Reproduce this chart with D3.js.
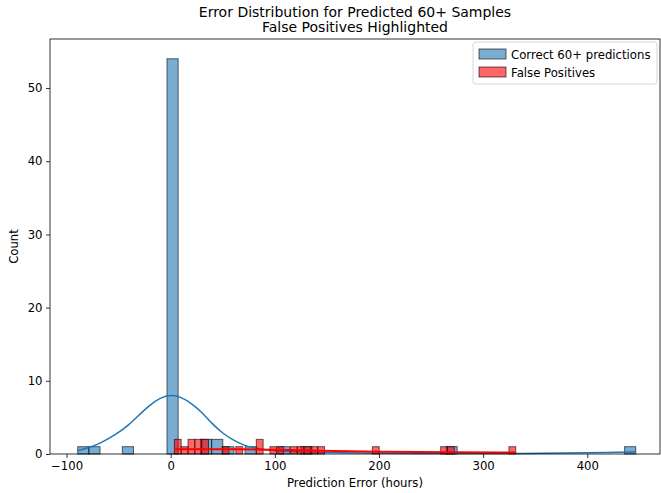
<!DOCTYPE html>
<html lang="en">
<head>
    <meta charset="UTF-8">
    <title>Error Distribution for Predicted 60+ Samples</title>
    <script src="https://d3js.org/d3.v7.min.js"></script>
    <style>
        body { margin: 0; background: #fff; }
        svg { font-family: "DejaVu Sans", sans-serif; }
    </style>
</head>
<body>
    <div id="chart"></div>

    <script>
        // histogram counts, 50 equal bins each
        const blueRange = [-89.3, 446.5];
        const blueCounts = [
            1, 1, 0, 0, 1, 0, 0, 0, 54, 0,
            0, 2, 2, 1, 0, 1, 0, 0, 1, 0,
            1, 0, 0, 0, 0, 0, 0, 0, 0, 0,
            0, 0, 0, 1, 0, 0, 0, 0, 0, 0,
            0, 0, 0, 0, 0, 0, 0, 0, 0, 1
        ];
        const redRange = [3.5, 331.3];
        const redCounts = [
            2, 1, 2, 2, 2, 0, 0, 1, 0, 1,
            0, 0, 2, 0, 1, 1, 0, 1, 1, 1,
            1, 1, 0, 0, 0, 0, 0, 0, 0, 1,
            0, 0, 0, 0, 0, 0, 0, 0, 0, 1,
            1, 0, 0, 0, 0, 0, 0, 0, 0, 1
        ];

        // kde curves (count scale)
        const blueKdeX = [-89.3, -80, -68, -52, -40, -30, -20, -10, 0, 10, 20, 30, 40, 50, 60, 70, 80, 95, 110, 140, 200, 280, 340, 380, 420, 446.5];
        const blueKdeY = [0.45, 0.8, 1.4, 2.7, 4.0, 5.4, 6.7, 7.7, 8.1, 7.8, 6.9, 5.7, 4.1, 2.8, 1.9, 1.2, 0.8, 0.5, 0.35, 0.2, 0.1, 0.05, 0.07, 0.12, 0.22, 0.3];
        const redKdeX = [3.5, 50, 100, 140, 200, 270, 331.3];
        const redKdeY = [0.65, 0.65, 0.6, 0.45, 0.3, 0.23, 0.22];

        const xTicks = [-100, 0, 100, 200, 300, 400];
        const yTicks = [0, 10, 20, 30, 40, 50];

        const W = 661, H = 493;
        const margin = { top: 39, right: 1, bottom: 39, left: 50 };
        const width = W - margin.left - margin.right;
        const height = H - margin.top - margin.bottom;
        const fs = 11.7;

        const svg = d3.select("#chart").append("svg")
            .attr("width", W).attr("height", H);

        const g = svg.append("g").attr("transform", `translate(${margin.left},${margin.top})`);

        const x = d3.scaleLinear().domain([-115.9, 469.8]).range([0, width]);
        const y = d3.scaleLinear().domain([0, 56.7]).range([height, 0]);

        function bins(counts, range) {
            const e = d3.scaleLinear().domain([0, counts.length]).range(range);
            return counts.map((c, i) => ({ x0: e(i), x1: e(i + 1), n: c })).filter(d => d.n > 0);
        }

        function drawHist(data, color) {
            g.append("g").selectAll("rect")
                .data(data)
                .enter().append("rect")
                .attr("x", d => x(d.x0))
                .attr("y", d => y(d.n))
                .attr("width", d => x(d.x1) - x(d.x0))
                .attr("height", d => height - y(d.n))
                .attr("fill", color)
                .attr("fill-opacity", 0.6)
                .attr("stroke", "#000")
                .attr("stroke-opacity", 0.6)
                .attr("stroke-width", 1);
        }

        const line = d3.line()
            .x(d => x(d[0]))
            .y(d => y(d[1]))
            .curve(d3.curveBasis);

        drawHist(bins(blueCounts, blueRange), "#1f77b4");
        g.append("path")
            .datum(d3.zip(blueKdeX, blueKdeY))
            .attr("d", line)
            .attr("fill", "none")
            .attr("stroke", "#1f77b4")
            .attr("stroke-width", 1.5);

        drawHist(bins(redCounts, redRange), "#ff0000");
        g.append("path")
            .datum(d3.zip(redKdeX, redKdeY))
            .attr("d", line)
            .attr("fill", "none")
            .attr("stroke", "#ff0000")
            .attr("stroke-width", 2);

        // axes
        const xAxis = g.append("g")
            .attr("transform", `translate(0,${height})`)
            .call(d3.axisBottom(x).tickValues(xTicks).tickSizeOuter(0).tickSize(4).tickPadding(3.5));
        const yAxis = g.append("g")
            .call(d3.axisLeft(y).tickValues(yTicks).tickSizeOuter(0).tickSize(4).tickPadding(3.5));
        [xAxis, yAxis].forEach(a => {
            a.select(".domain").remove();
            a.selectAll("line").attr("stroke", "#000").attr("stroke-width", 0.8);
            a.selectAll("text").attr("font-size", fs).attr("fill", "#000")
                .attr("font-family", "DejaVu Sans, sans-serif");
        });

        g.append("rect")
            .attr("width", width).attr("height", height)
            .attr("fill", "none").attr("stroke", "#000").attr("stroke-width", 0.8);

        // labels
        svg.append("text")
            .attr("x", margin.left + width / 2).attr("y", 487)
            .attr("text-anchor", "middle").attr("font-size", fs)
            .text("Prediction Error (hours)");
        svg.append("text")
            .attr("transform", `translate(18,${margin.top + height / 2}) rotate(-90)`)
            .attr("text-anchor", "middle").attr("font-size", fs)
            .text("Count");
        const title = svg.append("text")
            .attr("x", margin.left + width / 2)
            .attr("text-anchor", "middle").attr("font-size", 14);
        title.append("tspan").attr("x", margin.left + width / 2).attr("y", 17)
            .text("Error Distribution for Predicted 60+ Samples");
        title.append("tspan").attr("x", margin.left + width / 2).attr("y", 32)
            .text("False Positives Highlighted");

        // legend
        const lg = svg.append("g").attr("transform", "translate(473,42)");
        lg.append("rect")
            .attr("width", 184).attr("height", 42).attr("rx", 3)
            .attr("fill", "#fff").attr("fill-opacity", 0.8)
            .attr("stroke", "#ccc").attr("stroke-width", 0.8);
        const items = [["Correct 60+ predictions", "#1f77b4"], ["False Positives", "#ff0000"]];
        items.forEach((it, i) => {
            lg.append("rect")
                .attr("x", 6).attr("y", 7 + i * 18)
                .attr("width", 27).attr("height", 10)
                .attr("fill", it[1]).attr("fill-opacity", 0.6)
                .attr("stroke", "#000").attr("stroke-opacity", 0.6);
            lg.append("text")
                .attr("x", 38).attr("y", 16.5 + i * 18)
                .attr("font-size", fs)
                .text(it[0]);
        });
    </script>
</body>
</html>
